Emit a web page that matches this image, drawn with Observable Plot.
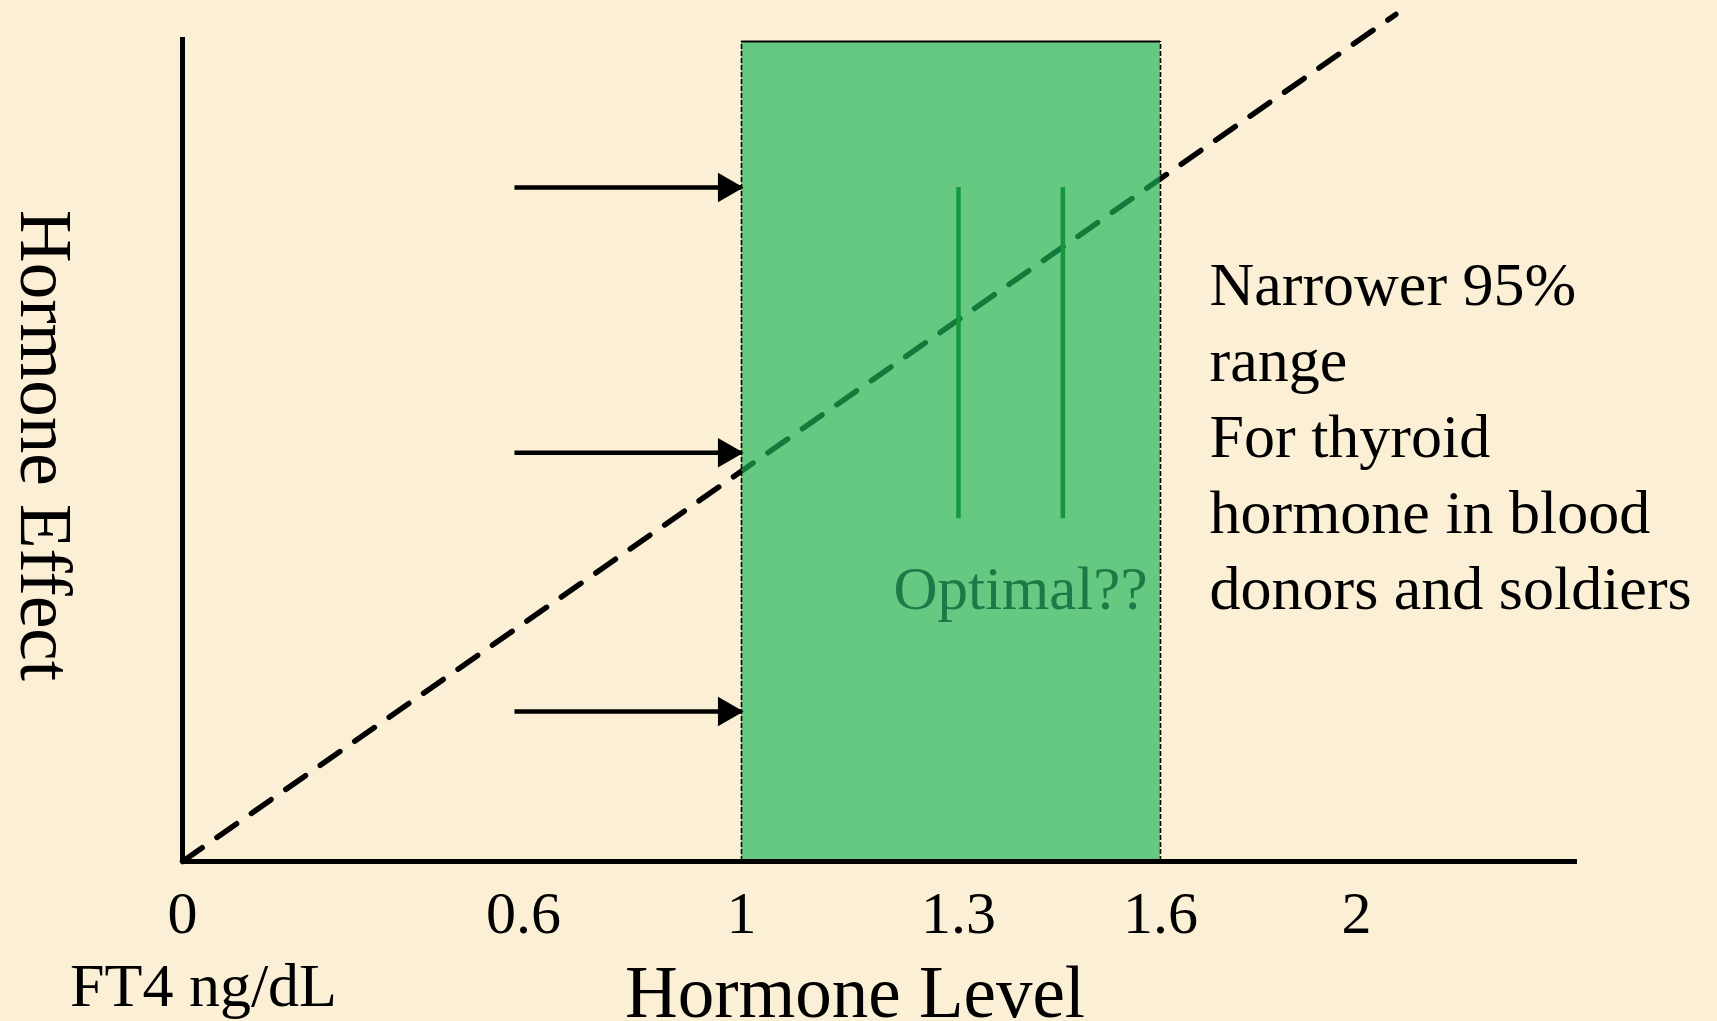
<!DOCTYPE html>
<html>
<head>
<meta charset="utf-8">
<script src="https://cdn.jsdelivr.net/npm/d3@7"></script>
<script src="https://cdn.jsdelivr.net/npm/@observablehq/plot@0.6"></script>
<style>
  html, body { margin: 0; padding: 0; background: #fbefd6; }
  #chart svg { display: block; }
</style>
</head>
<body>
<div id="chart"></div>
<script>
// ---- data ----
const xTicks = [0, 0.6, 1, 1.3, 1.6, 2];
const levelStops = [0, 0.6, 1, 1.3, 1.6, 2, 2.45];
const effectDomain = [0, 100];
const normalRange = [1, 1.6];          // narrower 95% range (FT4 ng/dL)
const normalRangeTop = 99.5;
const optimalLevels = [1.3, 1.455];
const optimalEffect = [41.6, 81.8];
const arrowEffects = [81.8, 49.6, 18.2];
const arrowStart = 0.585;
const lineLevels = [0, 2.08];
const lineEffects = [0, 102.8];
const xTitle = "Hormone Level";
const yTitle = "Hormone Effect";
const unitLabel = "FT4 ng/dL";
const optimalLabel = "Optimal??";
const noteLines = ["Narrower 95%", "range", "For thyroid", "hormone in blood", "donors and soldiers"];
const noteLevel = 1.7;
const noteEffect = 30.7;

const serif = "'Liberation Serif', 'Times New Roman', serif";
const line = lineLevels.map((l, i) => ({level: l, effect: lineEffects[i]}));
const band = [{x1: normalRange[0], x2: normalRange[1], y1: 0, y2: normalRangeTop}];

const chart = Plot.plot({
  width: 1717,
  height: 1021,
  marginTop: 37,
  marginBottom: 160,
  marginLeft: 182,
  marginRight: 140,
  style: {background: "#fbefd6", fontFamily: serif, fontSize: "60px", color: "#000"},
  x: {
    type: "linear",
    domain: levelStops,
    range: [182, 523, 741, 958, 1160, 1356, 1577],
    ticks: xTicks,
    tickSize: 0,
    tickPadding: 29,
    tickFormat: d => String(d),
    label: null
  },
  y: {type: "linear", domain: effectDomain, axis: null},
  marks: [
    // dashed dose-effect line
    Plot.line(line, {x: "level", y: "effect", stroke: "#000", strokeWidth: 5.5, strokeDasharray: "24,18"}),
    // normal range box (translucent so the line shows dark green)
    Plot.rect(band, {x1: "x1", x2: "x2", y1: "y1", y2: "y2", fill: "#1bb657", fillOpacity: 0.67}),
    Plot.ruleY([normalRangeTop], {x1: normalRange[0], x2: normalRange[1], stroke: "#000", strokeWidth: 2}),
    Plot.ruleX(normalRange, {y1: 0, y2: normalRangeTop, stroke: "#000", strokeWidth: 1.6, strokeDasharray: "5,2"}),
    // optimal markers
    Plot.ruleX(optimalLevels, {y1: optimalEffect[0], y2: optimalEffect[1], stroke: "#16963e", strokeWidth: 4.5}),
    // arrows
    Plot.ruleY(arrowEffects, {x1: arrowStart, x2: normalRange[0], stroke: "#000", strokeWidth: 4.5}),
    Plot.dot(arrowEffects, {x: normalRange[0], y: d => d, symbol: "triangle", r: 11, rotate: 90, fill: "#000", stroke: "none", dx: -15}),
    // axes lines
    Plot.ruleX([0], {y1: 0, y2: effectDomain[1], stroke: "#000", strokeWidth: 5}),
    Plot.ruleY([0], {x1: 0, x2: levelStops[levelStops.length - 1], stroke: "#000", strokeWidth: 5}),
    // texts
    Plot.text([optimalLabel], {x: normalRange[1], y: noteEffect, text: d => d, textAnchor: "end", lineAnchor: "bottom", dx: -13, fill: "#1d7a47", fontSize: 61, fontFamily: serif}),
    Plot.text([noteLines.join("\n")], {x: noteLevel, y: noteEffect, text: d => d, textAnchor: "start", lineAnchor: "bottom", lineHeight: 1.222, fill: "#000", fontSize: 62, fontFamily: serif}),
    Plot.text([xTitle], {frameAnchor: "bottom", text: d => d, textAnchor: "middle", lineAnchor: "bottom", dx: -25, dy: 155, fill: "#000", fontSize: 73, fontFamily: serif}),
    Plot.text([unitLabel], {frameAnchor: "bottom-left", text: d => d, textAnchor: "middle", lineAnchor: "bottom", dx: 21, dy: 144, fill: "#000", fontSize: 62, fontFamily: serif}),
    Plot.text([yTitle], {frameAnchor: "left", text: d => d, rotate: 90, textAnchor: "middle", lineAnchor: "bottom", dx: -162, dy: -4, fill: "#000", fontSize: 73, fontFamily: serif})
  ]
});
document.getElementById("chart").append(chart);
</script>
</body>
</html>
